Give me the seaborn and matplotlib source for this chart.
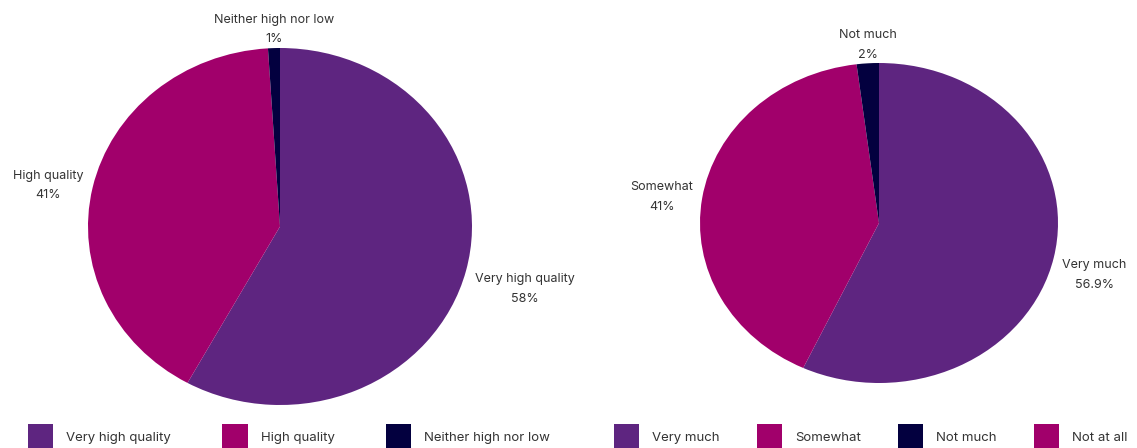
import numpy as np
import matplotlib
matplotlib.use("Agg")
import matplotlib.pyplot as plt
import seaborn as sns

sns.set_theme(style="white")
plt.rcParams['font.family'] = ['Inter', 'DejaVu Sans']

# Data
quality_labels = ["Very high quality", "High quality", "Neither high nor low"]
quality_values = [58, 41, 1]
quality_text = ["58%", "41%", "1%"]

much_labels = ["Very much", "Somewhat", "Not much", "Not at all"]
much_values = [56.9, 41, 2, 0]
much_text = ["56.9%", "41%", "2%", ""]

purple, magenta, navy = "#5e2580", "#a1006b", "#03003f"
quality_colors = sns.color_palette([purple, magenta, navy])
much_colors = sns.color_palette([purple, magenta, navy, magenta])

W, H = 1137, 448
fig = plt.figure(figsize=(W / 100, H / 100), dpi=100)
TXT = "#333333"


def px_axes(x0, x1, y0, y1):
    return fig.add_axes([x0 / W, (H - y1) / H, (x1 - x0) / W, (y1 - y0) / H])


def draw_pie(ax, values, labels, texts, colors):
    wedges, _ = ax.pie(values, colors=colors, startangle=90, counterclock=False,
                       radius=1, wedgeprops=dict(linewidth=0))
    ax.set_aspect('auto')
    ax.set_xlim(-1, 1)
    ax.set_ylim(-1, 1)
    ax.axis('off')
    total = sum(values)
    cum = 0
    for v, lab, t in zip(values, labels, texts):
        mid = 90 - 360 * (cum + v / 2) / total
        cum += v
        if v <= 0:
            continue
        c, s = np.cos(np.radians(mid)), np.sin(np.radians(mid))
        if abs(c) < 0.3:
            ha = 'center'
        else:
            ha = 'left' if c > 0 else 'right'
        r = 1.05
        if s > 0.7:
            va = 'bottom'
            r = 1.015
        elif s < -0.1:
            va = 'top'
        else:
            va = 'center'
        ax.text(r * c, r * s, f"{lab}\n{t}", ha=ha, va=va,
                multialignment='center', fontsize=9, color=TXT,
                linespacing=1.85, clip_on=False)
    return wedges


ax1 = px_axes(88, 472, 48, 405)
w1 = draw_pie(ax1, quality_values, quality_labels, quality_text, quality_colors)
ax2 = px_axes(700, 1058, 63, 383)
w2 = draw_pie(ax2, much_values, much_labels, much_text, much_colors)

leg_kw = dict(frameon=False, loc='upper left', borderpad=0, borderaxespad=0,
              handlelength=1.9, handleheight=2.6, handletextpad=1.0,
              fontsize=9.5, labelcolor=TXT)
fig.legend(w1, quality_labels, ncol=3, columnspacing=3.9,
           bbox_to_anchor=(28 / W, (H - 424) / H), **leg_kw)
fig.legend(w2, much_labels, ncol=4, columnspacing=2.8,
           bbox_to_anchor=(614 / W, (H - 424) / H), **leg_kw)

fig.savefig("out.png", dpi=100)
